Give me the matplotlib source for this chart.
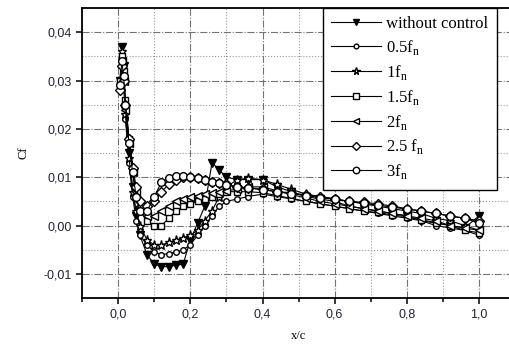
import matplotlib.pyplot as plt
from matplotlib.ticker import MultipleLocator, FuncFormatter

plt.rcParams['mathtext.fontset'] = 'custom'
plt.rcParams['mathtext.rm'] = 'Liberation Serif'

# x/c stations (shared by all series)
xc = [0.005, 0.01, 0.015, 0.02, 0.03, 0.04, 0.05, 0.06, 0.08, 0.1, 0.12, 0.14,
      0.16, 0.18, 0.2, 0.22, 0.24, 0.26, 0.28, 0.3, 0.33, 0.36, 0.4, 0.44, 0.48,
      0.52, 0.56, 0.6, 0.64, 0.68, 0.72, 0.76, 0.8, 0.84, 0.88, 0.92, 0.96, 1.0]

cf_none = [0.030, 0.037, 0.033, 0.024, 0.015, 0.008, 0.002, -0.002, -0.006, -0.008,
           -0.0085, -0.0085, -0.0082, -0.008, -0.003, 0.0005, 0.004, 0.013, 0.0115,
           0.010, 0.0095, 0.0095, 0.0095, 0.008, 0.007, 0.006, 0.0055, 0.005, 0.004,
           0.0035, 0.003, 0.0025, 0.002, 0.001, 0.0005, 0.0, -0.0005, 0.002]
cf_05 = [0.028, 0.035, 0.030, 0.022, 0.013, 0.006, 0.001, -0.002, -0.004, -0.0055,
         -0.006, -0.0058, -0.0055, -0.005, -0.004, -0.002, 0.0, 0.002, 0.004, 0.005,
         0.0055, 0.006, 0.0065, 0.006, 0.0055, 0.005, 0.0045, 0.004, 0.0035, 0.003,
         0.0025, 0.002, 0.0015, 0.001, 0.0, -0.0005, -0.001, -0.002]
cf_1 = [0.029, 0.036, 0.031, 0.023, 0.014, 0.007, 0.003, 0.0, -0.003, -0.004,
        -0.004, -0.0035, -0.003, -0.0025, -0.002, -0.001, 0.001, 0.003, 0.006, 0.008,
        0.0095, 0.0098, 0.0095, 0.0085, 0.0075, 0.0065, 0.006, 0.0055, 0.005, 0.0045,
        0.004, 0.0035, 0.003, 0.0025, 0.0015, 0.001, 0.0, -0.001]
cf_15 = [0.030, 0.035, 0.032, 0.026, 0.018, 0.011, 0.006, 0.003, 0.001, 0.0,
         0.0, 0.0015, 0.003, 0.004, 0.0045, 0.005, 0.0055, 0.006, 0.0065, 0.007,
         0.007, 0.007, 0.0068, 0.0062, 0.0056, 0.005, 0.0045, 0.004, 0.0035, 0.003,
         0.0027, 0.0022, 0.0018, 0.0012, 0.0006, 0.0, -0.001, -0.0015]
cf_2 = [0.029, 0.034, 0.030, 0.024, 0.017, 0.011, 0.007, 0.004, 0.002, 0.002,
        0.003, 0.004, 0.005, 0.0055, 0.006, 0.0062, 0.0065, 0.0068, 0.007, 0.0072,
        0.0075, 0.008, 0.008, 0.0072, 0.0064, 0.0057, 0.005, 0.0045, 0.004, 0.0035,
        0.003, 0.0025, 0.002, 0.0015, 0.001, 0.0, -0.0005, -0.001]
cf_25 = [0.028, 0.033, 0.030, 0.025, 0.018, 0.012, 0.008, 0.005, 0.004, 0.005,
         0.007, 0.0085, 0.0095, 0.010, 0.010, 0.0098, 0.0095, 0.009, 0.0088, 0.0085,
         0.008, 0.0078, 0.0075, 0.007, 0.0068, 0.0063, 0.006, 0.0055, 0.005, 0.0048,
         0.0045, 0.004, 0.0035, 0.003, 0.0025, 0.002, 0.0015, 0.001]
cf_3 = [0.029, 0.034, 0.031, 0.025, 0.017, 0.011, 0.006, 0.003, 0.003, 0.006,
        0.009, 0.0098, 0.0102, 0.0103, 0.010, 0.0098, 0.0094, 0.009, 0.0087, 0.0083,
        0.008, 0.0078, 0.0074, 0.007, 0.0066, 0.0062, 0.0058, 0.0054, 0.005, 0.0046,
        0.0042, 0.0038, 0.0034, 0.003, 0.0025, 0.002, 0.0015, 0.0005]

series = [
    (cf_none, 'without control', 'v', 'black', 5.5),
    (cf_05, '0.5f$_\\mathregular{n}$', 'o', 'white', 4),
    (cf_1, '1f$_\\mathregular{n}$', '*', 'white', 6.5),
    (cf_15, '1.5f$_\\mathregular{n}$', 's', 'white', 5),
    (cf_2, '2f$_\\mathregular{n}$', '<', 'white', 5.5),
    (cf_25, '2.5 f$_\\mathregular{n}$', 'D', 'white', 5),
    (cf_3, '3f$_\\mathregular{n}$', 'o', 'white', 5.5),
]

fig = plt.figure(figsize=(5.1, 3.47), dpi=100)
ax = fig.add_axes([0.161, 0.141, 0.849, 0.836])

for cf, label, mk, fc, ms in series:
    ax.plot(xc, cf, color='black', lw=0.8, marker=mk, markersize=ms,
            markerfacecolor=fc, markeredgecolor='black', markeredgewidth=1.0,
            label=label)

ax.set_xlim(-0.1, 1.1)
ax.set_ylim(-0.015, 0.045)
ax.xaxis.set_major_locator(MultipleLocator(0.2))
ax.xaxis.set_minor_locator(MultipleLocator(0.1))
ax.yaxis.set_major_locator(MultipleLocator(0.01))
ax.yaxis.set_minor_locator(MultipleLocator(0.005))
ax.xaxis.set_major_formatter(FuncFormatter(lambda v, p: f'{v:.1f}'.replace('.', ',')))
ax.yaxis.set_major_formatter(FuncFormatter(lambda v, p: f'{v:.2f}'.replace('.', ',').replace('-0,00', '0,00')))

ax.grid(which='major', color='0.45', linestyle='-.', lw=0.8)
ax.grid(which='minor', color='0.6', linestyle=':', lw=0.8)
ax.set_axisbelow(True)

for s in ['left', 'bottom', 'top']:
    ax.spines[s].set_linewidth(1.3)
ax.spines['right'].set_visible(False)
ax.tick_params(which='both', direction='out', width=1.1, labelsize=9,
               labelcolor='#222233')
ax.tick_params(which='major', length=4)
ax.tick_params(which='minor', length=3)
ax.tick_params(axis='y', which='minor', length=0)
for t in ax.get_xticklabels() + ax.get_yticklabels():
    t.set_family('Liberation Sans')

ax.set_xlabel('x/c', family='Liberation Serif', fontsize=9, labelpad=7)
ax.set_ylabel('Cf', family='Liberation Serif', fontsize=9, labelpad=10)

leg = ax.legend(loc='upper right', bbox_to_anchor=(0.958, 1.0), fancybox=False,
                edgecolor='black', framealpha=1, handlelength=3.0,
                handletextpad=0.3, labelspacing=0.35, borderaxespad=0,
                borderpad=0.5, markerscale=0.85,
                prop={'family': 'Liberation Serif', 'size': 12})
leg.get_frame().set_linewidth(1.0)

fig.savefig('out.png', dpi=100)
